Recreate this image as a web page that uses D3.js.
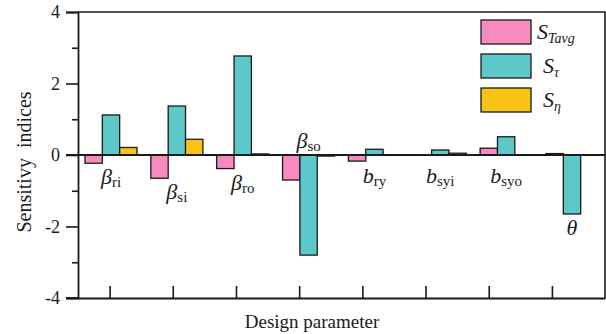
<!DOCTYPE html>
<html>
<head>
<meta charset="utf-8">
<script src="https://cdn.jsdelivr.net/npm/d3@7"></script>
<style>
  html, body { margin: 0; padding: 0; background: #fff; }
  svg { display: block; }
  svg text { font-family: "Liberation Serif", "Times New Roman", Times, serif !important; fill: #1a1a1a; }
</style>
</head>
<body>
<svg id="chart" width="606" height="334"></svg>
<script>
// ---- data ----
const categories = ["β_ri", "β_si", "β_ro", "β_so", "b_ry", "b_syi", "b_syo", "θ"];
const seriesNames = ["STavg", "Stau", "Seta"];
const STavg = [-0.23, -0.65, -0.38, -0.70, -0.17, 0.01, 0.19, 0.04];
const Stau  = [1.12, 1.37, 2.77, -2.80, 0.16, 0.14, 0.51, -1.65];
const Seta  = [0.21, 0.44, 0.03, -0.03, -0.01, 0.05, 0.00, 0.00];
const yTicks = [-4, -2, 0, 2, 4];
const yMinorTicks = [-3, -1, 1, 3];
const xTickValues = [1, 2, 3, 4, 5, 6, 7, 8];
const labelsAbove = ["β_so"];

// ---- styles ----
const colors = { STavg: "#F78BBF", Stau: "#5DC8C9", Seta: "#F8C315" };
const ink = "#1a1a1a";
const serif = "'Liberation Serif', 'Times New Roman', serif";

const svg = d3.select("#chart").attr("font-family", serif);
const pL = 78, pR = 605, pT = 12, pB = 298;

const seriesValues = { STavg, Stau, Seta };
const rows = categories.map((c, i) => ({
  cat: c,
  vals: seriesNames.map(s => ({ key: s, value: seriesValues[s][i] }))
}));

const x0 = d3.scaleBand().domain(categories).range([pL, pR])
  .paddingInner(0.21).paddingOuter(0.106);
const x1 = d3.scaleBand().domain(seriesNames).range([0, x0.bandwidth()]);
const y = d3.scaleLinear().domain([-4, 4]).range([pB, pT]);
const xt = d3.scaleLinear().domain([0.5, 8.84]).range([pL, pR]);

// frame (top & right)
svg.append("path")
  .attr("d", `M${pL},${pT}H${pR}V${pB}`)
  .attr("fill", "none").attr("stroke", ink).attr("stroke-width", 1.6);

// bars
const g = svg.append("g");
rows.forEach(r => {
  g.selectAll(null).data(r.vals).enter().append("rect")
    .attr("x", d => x0(r.cat) + x1(d.key))
    .attr("y", d => y(Math.max(0, d.value)))
    .attr("width", x1.bandwidth())
    .attr("height", d => Math.abs(y(d.value) - y(0)))
    .attr("fill", d => colors[d.key])
    .attr("stroke", ink).attr("stroke-width", 1.3);
});

// zero line
svg.append("line")
  .attr("x1", pL - 12).attr("x2", pR)
  .attr("y1", y(0)).attr("y2", y(0))
  .attr("stroke", ink).attr("stroke-width", 1.8);

// y axis
const yAxis = svg.append("g").attr("transform", `translate(${pL},0)`)
  .call(d3.axisLeft(y).tickValues(yTicks).tickSize(12).tickPadding(6).tickFormat(d3.format("d")));
yAxis.attr("font-family", serif).attr("font-size", 18);
yAxis.select(".domain").attr("stroke", ink).attr("stroke-width", 1.8);
yAxis.selectAll(".tick line").attr("stroke", ink).attr("stroke-width", 1.6);
yAxis.selectAll(".tick text").attr("fill", ink)
  .text(d => d < 0 ? "-" + Math.abs(d) : d);
const yMinor = svg.append("g").attr("transform", `translate(${pL},0)`)
  .call(d3.axisLeft(y).tickValues(yMinorTicks).tickSize(6).tickFormat(""));
yMinor.select(".domain").remove();
yMinor.selectAll(".tick line").attr("stroke", ink).attr("stroke-width", 1.6);

// x axis (ticks pointing inward)
const xAxis = svg.append("g").attr("transform", `translate(0,${pB})`)
  .call(d3.axisTop(xt).tickValues(xTickValues).tickSize(12).tickSizeOuter(0).tickFormat(""));
xAxis.select(".domain").attr("stroke", ink).attr("stroke-width", 1.8);
xAxis.selectAll(".tick line").attr("stroke", ink).attr("stroke-width", 1.6);
svg.append("line").attr("x1", pL - 12).attr("x2", pL).attr("y1", pB).attr("y2", pB)
  .attr("stroke", ink).attr("stroke-width", 1.8);

// category labels
rows.forEach(r => {
  const [sym, sub] = r.cat.split("_");
  const minV = d3.min(r.vals, d => d.value), maxV = d3.max(r.vals, d => d.value);
  let by;
  if (labelsAbove.includes(r.cat)) by = y(Math.max(0, maxV)) - 7;
  else by = Math.max(y(0) + 28, y(Math.min(0, minV)) + 21);
  const t = svg.append("text")
    .attr("x", x0(r.cat) + x0.bandwidth() / 2)
    .attr("y", by).attr("text-anchor", "middle");
  t.append("tspan").text(sym).attr("font-style", "italic").attr("font-size", 22);
  if (sub) t.append("tspan").text(sub).attr("font-size", 15).attr("dy", 3);
});

// axis titles
svg.append("text")
  .attr("transform", `translate(31,${(pT + pB) / 2 + 7}) rotate(-90)`)
  .attr("text-anchor", "middle").attr("font-size", 20)
  .style("white-space", "pre").text("Sensitivy  indices");
svg.append("text")
  .attr("x", 312).attr("y", 328).attr("text-anchor", "middle")
  .attr("font-size", 19).text("Design parameter");

// legend
const legendItems = [
  { key: "STavg", sub: "Tavg", dx: 0 },
  { key: "Stau", sub: "τ", dx: 6 },
  { key: "Seta", sub: "η", dx: 6 }
];
const lg = svg.append("g");
legendItems.forEach((it, i) => {
  const ry = 20 + 34 * i;
  lg.append("rect").attr("x", 481).attr("y", ry).attr("width", 50).attr("height", 24)
    .attr("fill", colors[it.key]).attr("stroke", ink).attr("stroke-width", 1.3);
  const t = lg.append("text").attr("x", 537 + it.dx).attr("y", ry + 19);
  t.append("tspan").text("S").attr("font-style", "italic").attr("font-size", 22);
  t.append("tspan").text(it.sub).attr("font-style", "italic").attr("font-size", 14).attr("dy", 4);
});
</script>
</body>
</html>
